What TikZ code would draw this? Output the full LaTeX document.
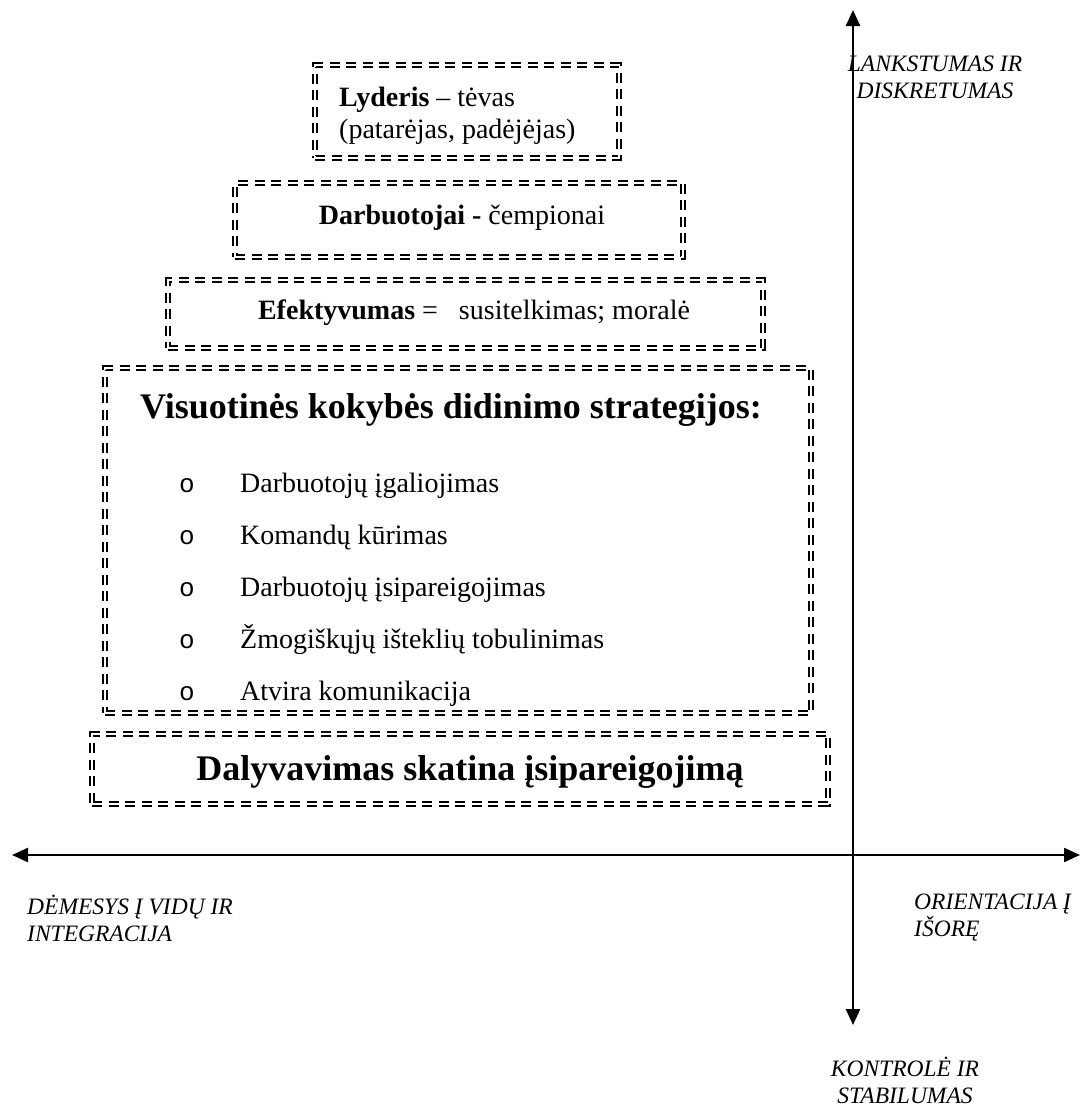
\documentclass[tikz,border=0pt]{standalone}
\usepackage{fontspec}
\setmainfont{Liberation Serif}
\newfontfamily\bulfont{Liberation Mono}
\usetikzlibrary{arrows.meta}

\tikzset{
  dbox/.style={draw, double, double distance=2pt, line width=2pt,
    dash pattern=on 10pt off 6.5pt, inner sep=0pt},
  txt/.style={inner sep=0pt, font=\fontsize{28}{32}\selectfont},
  big/.style={inner sep=0pt, font=\fontsize{36}{40}\selectfont\bfseries},
  axis/.style={line width=2.4pt, {Triangle[length=16pt,width=14pt]}-{Triangle[length=16pt,width=14pt]}},
  axlabel/.style={inner sep=0pt, font=\fontsize{23.5}{27}\selectfont\itshape},
}

\begin{document}
\begin{tikzpicture}[x=1pt,y=-1pt]
			\useasboundingbox (0,0) rectangle (1088,1106);
			% frames
			\node[dbox, minimum width=304pt, minimum height=93pt] (lyd) at (467,111.5) {};
			\node[dbox, minimum width=448pt, minimum height=74pt] (darb) at (459,220) {};
			\node[dbox, minimum width=595pt, minimum height=68pt] (efek) at (465.5,314) {};
			\node[dbox, minimum width=706pt, minimum height=345pt] (strat) at (458,540.5) {};
			\node[dbox, minimum width=736pt, minimum height=70pt] (dal) at (460,769) {};
			% texts
			\node[txt, anchor=west, align=left] (lydtxt) at (339,116) {\textbf{Lyderis} – tėvas\\(patarėjas, padėjėjas)};
			\node[txt] (darbtxt) at (462,218) {\textbf{Darbuotojai -} čempionai};
			\node[txt] (efektxt) at (474,313) {\textbf{Efektyvumas} =\ \ \ susitelkimas; moralė};
			\node[big] (strattxt) at (451,410) {Visuotinės kokybės didinimo strategijos:};
			\foreach \t [count=\i] in {Darbuotojų įgaliojimas, Komandų kūrimas, Darbuotojų įsipareigojimas, Žmogiškųjų išteklių tobulinimas, Atvira komunikacija}
			{
				\node[txt, anchor=base, font=\fontsize{26}{30}\bulfont] (o\i) at (187,440+52*\i) {o};
				\node[txt, anchor=base west] (item\i) at (240,440+52*\i) {\t};
			}
			\node[big] (daltxt) at (470,772) {Dalyvavimas skatina įsipareigojimą};
			% axes
			\coordinate (W) at (12,855);
			\coordinate (E) at (1080,855);
			\coordinate (N) at (853,10);
			\coordinate (S) at (853,1025);
			\draw[axis] (W) -- (E);
			\draw[axis] (S) -- (N);
			\node[axlabel, align=center] (lankst) at (935,77) {LANKSTUMAS IR\\DISKRETUMAS};
			\node[axlabel, align=left, anchor=west] (demes) at (27,918) {DĖMESYS Į VIDŲ IR\\INTEGRACIJA};
			\node[axlabel, align=left, anchor=west] (orient) at (914,918) {ORIENTACIJA Į\\IŠORĘ};
			\node[axlabel, align=center] (kontr) at (905,1080) {KONTROLĖ IR\\STABILUMAS};
\end{tikzpicture}
\end{document}
